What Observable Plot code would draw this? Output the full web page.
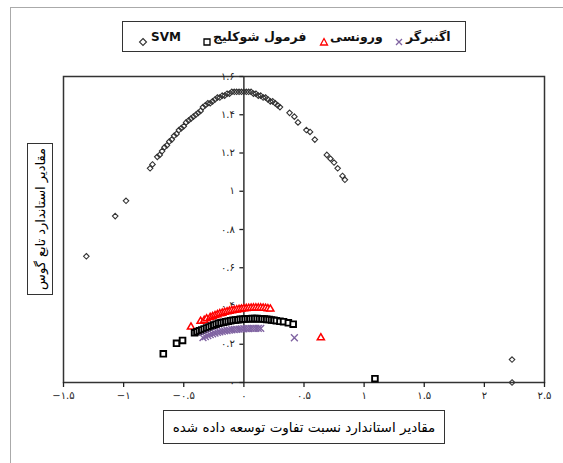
<!DOCTYPE html>
<html><head><meta charset="utf-8">
<script src="https://cdn.jsdelivr.net/npm/d3@7"></script>
<script src="https://cdn.jsdelivr.net/npm/@observablehq/plot@0.6"></script>
<style>
body{margin:0;background:#fff;font-family:"DejaVu Sans",sans-serif;}
#wrap{position:relative;width:563px;height:463px;overflow:hidden;}
#outer{position:absolute;left:10px;top:7px;width:700px;height:700px;border-left:1px solid #aaa;border-top:1px solid #aaa;}
#chart{position:absolute;left:0;top:0;}
.box{position:absolute;border:1px solid #333;box-sizing:border-box;background:#fff;}
.lsym{position:absolute;top:32px;}
.ltxt{position:absolute;top:27px;height:20px;line-height:20px;font-weight:bold;color:#111;white-space:nowrap;}
#ytitle span{position:absolute;left:50%;top:50%;transform:translate(-50%,-50%) rotate(-90deg);white-space:nowrap;font-size:13px;}
#xtitle{display:flex;align-items:center;justify-content:center;font-size:13.5px;}
</style></head>
<body>
<div id="wrap">
  <div id="outer"></div>
  <div id="chart"></div>
  <div id="legend" class="box" style="left:122px;top:21px;width:344px;height:31px;"></div>
  <div id="ytitle" class="box" style="left:27px;top:143px;width:26px;height:152px;"><span>مقادیر استاندارد تابع گوس</span></div>
  <div id="xtitle" class="box" style="left:163px;top:410px;width:282px;height:34px;">مقادیر استاندارد نسبت تفاوت توسعه داده شده</div>
</div>
<script>
// ---- data ----
const seriesNames = ["SVM", "فرمول شوکلیج", "ورونسی", "اگنبرگر"];
const xTicks = [-1.5, -1, -0.5, 0, 0.5, 1, 1.5, 2, 2.5];
const yTicks = [0, 0.2, 0.4, 0.6, 0.8, 1, 1.2, 1.4, 1.6];

const svmX = [-1.31,-1.07,-0.98,-0.78,-0.76,-0.72,-0.70,-0.68,-0.66,-0.64,-0.62,-0.60,-0.58,-0.56,-0.54,-0.52,-0.50,-0.48,-0.46,-0.44,-0.42,-0.40,-0.38,-0.36,-0.34,-0.32,-0.30,-0.28,-0.26,-0.24,-0.22,-0.20,-0.18,-0.16,-0.14,-0.12,-0.10,-0.08,-0.06,-0.04,-0.02,0.00,0.02,0.04,0.06,0.08,0.10,0.12,0.14,0.16,0.18,0.20,0.22,0.24,0.26,0.28,0.30,0.38,0.42,0.45,0.52,0.55,0.59,0.69,0.72,0.75,0.78,0.82,0.84,2.23,2.23];
const svmY = [0.66,0.87,0.95,1.12,1.14,1.18,1.19,1.21,1.23,1.24,1.26,1.27,1.29,1.30,1.32,1.33,1.34,1.36,1.37,1.38,1.39,1.40,1.41,1.42,1.44,1.45,1.46,1.46,1.47,1.48,1.49,1.49,1.50,1.50,1.51,1.51,1.52,1.52,1.52,1.52,1.52,1.52,1.52,1.52,1.52,1.51,1.51,1.50,1.50,1.49,1.49,1.48,1.47,1.47,1.46,1.45,1.44,1.41,1.39,1.36,1.32,1.31,1.27,1.19,1.17,1.15,1.12,1.08,1.06,0.12,0.00];

const shockleyX = [-0.67,-0.56,-0.51,-0.41,-0.39,-0.37,-0.35,-0.33,-0.31,-0.29,-0.27,-0.25,-0.23,-0.21,-0.19,-0.17,-0.15,-0.13,-0.11,-0.09,-0.07,-0.05,-0.03,-0.01,0.01,0.03,0.05,0.07,0.09,0.11,0.13,0.15,0.17,0.19,0.21,0.23,0.25,0.27,0.30,0.33,0.37,0.41,1.09];
const shockleyY = [0.15,0.205,0.22,0.26,0.265,0.27,0.275,0.28,0.285,0.29,0.295,0.30,0.305,0.31,0.312,0.315,0.318,0.32,0.323,0.325,0.327,0.328,0.33,0.331,0.332,0.333,0.333,0.334,0.334,0.334,0.333,0.333,0.332,0.33,0.329,0.327,0.325,0.323,0.32,0.318,0.312,0.305,0.02];

const voronsiX = [-0.44,-0.36,-0.33,-0.31,-0.28,-0.26,-0.24,-0.22,-0.20,-0.18,-0.16,-0.14,-0.12,-0.10,-0.08,-0.06,-0.04,-0.02,0.00,0.02,0.04,0.06,0.08,0.10,0.12,0.14,0.16,0.18,0.20,0.22,0.64];
const voronsiY = [0.29,0.32,0.325,0.333,0.34,0.345,0.35,0.355,0.36,0.363,0.367,0.37,0.373,0.376,0.378,0.38,0.382,0.384,0.386,0.387,0.388,0.389,0.39,0.39,0.39,0.39,0.389,0.388,0.386,0.384,0.234];

const egnX = [-0.34,-0.32,-0.30,-0.28,-0.26,-0.24,-0.22,-0.20,-0.18,-0.16,-0.14,-0.12,-0.10,-0.08,-0.06,-0.04,-0.02,0.00,0.02,0.04,0.06,0.08,0.10,0.12,0.14,0.42];
const egnY = [0.235,0.24,0.245,0.25,0.254,0.258,0.262,0.265,0.268,0.27,0.272,0.274,0.276,0.277,0.278,0.279,0.28,0.281,0.282,0.282,0.283,0.283,0.283,0.283,0.283,0.234];

// ---- helpers ----
const pts = (xs, ys) => xs.map((x, i) => ({x, y: ys[i]}));
const faDigits = "۰۱۲۳۴۵۶۷۸۹";
const fmt = d => String(+(+d).toFixed(2)).replace(/[0-9]/g, c => faDigits[c]).replace("-", "−");

const W = 563, H = 463, mL = 63, mR = 19, mT = 76, mB = 81;
const xDomain = [-1.5, 2.5], yDomain = [0, 1.6];
const yAxisShift = (0 - xDomain[0]) / (xDomain[1] - xDomain[0]) * (W - mL - mR);

const styles = [
  {symbol: "diamond2", r: 2.5, stroke: "#333", strokeWidth: 1.1, fill: "none"},
  {symbol: "square2", r: 3.6, stroke: "#000", strokeWidth: 1.9, fill: "#fff"},
  {symbol: "triangle2", r: 3.4, stroke: "#ff0000", strokeWidth: 1.5, fill: "#fff"},
  {symbol: "times", r: 3.2, stroke: "#8064a2", strokeWidth: 1.4, fill: "none"}
];

const plot = Plot.plot({
  width: W, height: H,
  marginLeft: mL, marginRight: mR, marginTop: mT, marginBottom: mB,
  x: {domain: xDomain},
  y: {domain: yDomain},
  style: {fontFamily: "DejaVu Sans", fontSize: "10px", color: "#222", background: "transparent", overflow: "visible"},
  marks: [
    Plot.frame({stroke: "#333", strokeWidth: 1.5}),
    Plot.axisX({ticks: xTicks, tickFormat: fmt, tickSize: 5, tickPadding: 4, label: null, strokeWidth: 1.3}),
    Plot.axisY({ticks: yTicks, tickFormat: fmt, tickSize: 4, tickPadding: 5, label: null, anchor: "left", dx: yAxisShift, strokeWidth: 1.3}),
    Plot.ruleX([0], {stroke: "#333", strokeWidth: 1.5}),
    Plot.dot(pts(svmX, svmY), {x: "x", y: "y", ...styles[0]}),
    Plot.dot(pts(voronsiX, voronsiY), {x: "x", y: "y", ...styles[2]}),
    Plot.dot(pts(shockleyX, shockleyY), {x: "x", y: "y", ...styles[1]}),
    Plot.dot(pts(egnX, egnY), {x: "x", y: "y", ...styles[3]})
  ]
});
document.getElementById("chart").appendChild(plot);

// ---- legend (layout positions in page pixels) ----
const symbolPaths = [
  "M0,-3.5L3.5,0L0,3.5L-3.5,0Z",
  "M-3,-3H3V3H-3Z",
  "M0,-3.5L3.5,3L-3.5,3Z",
  "M-3,-3L3,3M-3,3L3,-3"
];
const legendSymX = [143, 207, 324, 399];
const legendTxtX = [151, 213, 330, 406];
const legendFont = [12, 12.5, 12.5, 12.5];
const wrap = document.getElementById("wrap");
seriesNames.forEach((name, i) => {
  const s = styles[i];
  const sv = document.createElement("div");
  sv.className = "lsym";
  sv.style.left = (legendSymX[i] - 5) + "px";
  sv.innerHTML = `<svg width="10" height="10" viewBox="-5 -5 10 10"><path d="${symbolPaths[i]}" fill="${s.fill}" stroke="${s.stroke}" stroke-width="${Math.min(s.strokeWidth, 1.3)}"/></svg>`;
  wrap.appendChild(sv);
  const t = document.createElement("div");
  t.className = "ltxt";
  t.style.left = legendTxtX[i] + "px";
  t.style.fontSize = legendFont[i] + "px";
  t.textContent = name;
  t.dir = "auto";
  wrap.appendChild(t);
});
</script>
</body></html>
